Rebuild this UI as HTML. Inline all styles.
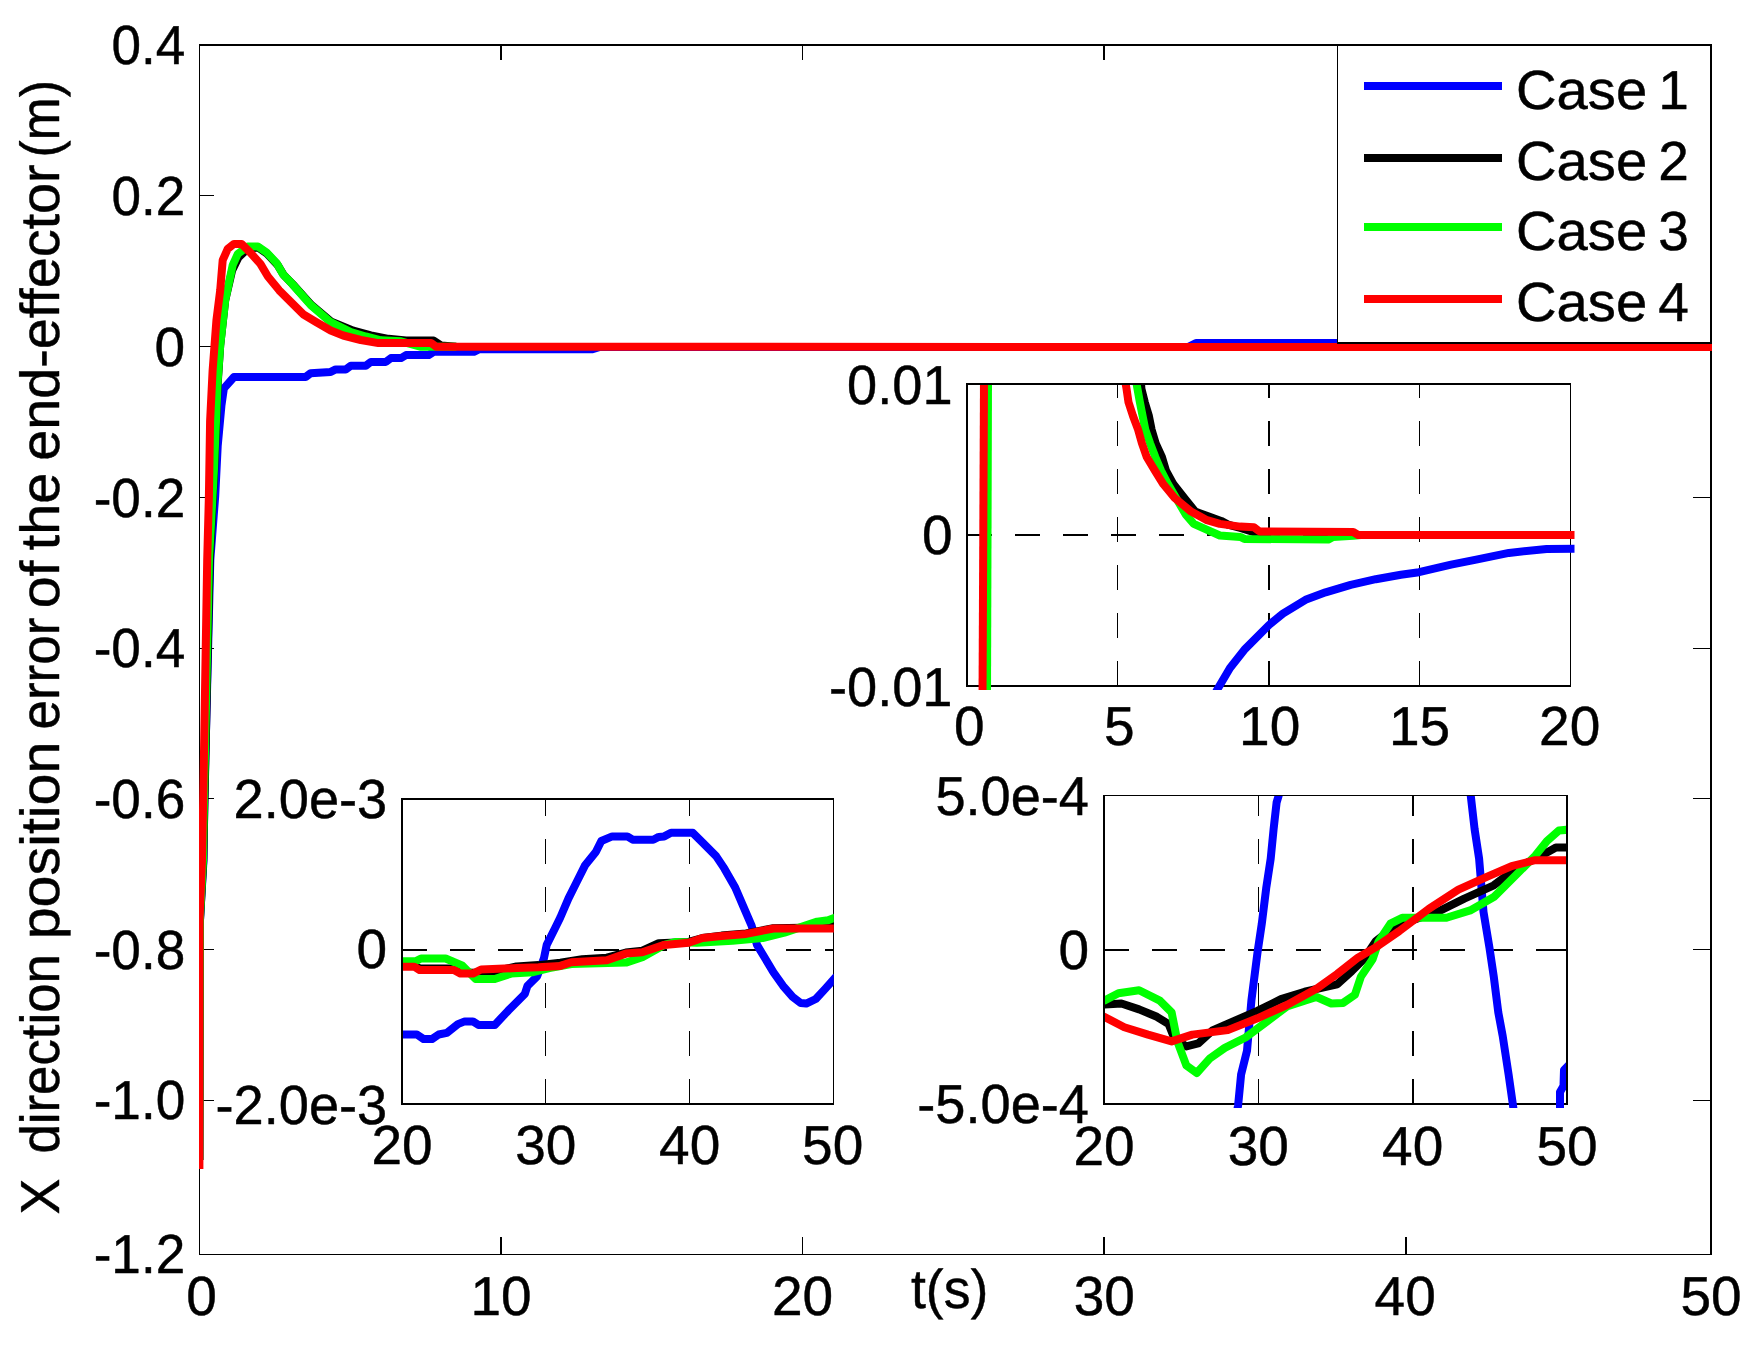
<!DOCTYPE html>
<html lang="en">
<head>
<meta charset="utf-8">
<title>X direction position error of the end-effector</title>
<style>
html,body{margin:0;padding:0;background:#fff;}
body{width:1759px;height:1354px;overflow:hidden;position:relative;font-family:"Liberation Sans", Arial, Helvetica, sans-serif;}
</style>
</head>
<body>
<svg width="1759" height="1354" viewBox="0 0 1759 1354" style="display:block;position:absolute;left:0;top:0" font-family='"Liberation Sans", Arial, Helvetica, sans-serif' font-size="55" fill="#000" shape-rendering="crispEdges" text-rendering="geometricPrecision">
<style>text{stroke:#000;stroke-width:0.45px;stroke-linejoin:round}</style>
<rect x="0" y="0" width="1759" height="1354" fill="#fff"/>
<defs>
<clipPath id="cm"><rect x="199.0" y="46.0" width="1513.0" height="1211.5"/></clipPath>
<clipPath id="c1"><rect x="968.0" y="385.0" width="606.5" height="305.0"/></clipPath>
<clipPath id="c2"><rect x="403.0" y="800.0" width="430.8" height="307.0"/></clipPath>
<clipPath id="c3"><rect x="1105.0" y="796.0" width="461.0" height="312.0"/></clipPath>
</defs>
<g id="main-axes">
<line x1="199.0" y1="45.0" x2="1712.0" y2="45.0" stroke="#000" stroke-width="2"/>
<line x1="199.0" y1="1254.5" x2="1712.0" y2="1254.5" stroke="#000" stroke-width="1"/>
<line x1="199.5" y1="44.0" x2="199.5" y2="1255.0" stroke="#000" stroke-width="1"/>
<line x1="1711.0" y1="44.0" x2="1711.0" y2="1255.0" stroke="#000" stroke-width="2"/>
<line x1="501" y1="1237.0" x2="501" y2="1254.5" stroke="#000" stroke-width="2"/>
<line x1="501" y1="45.0" x2="501" y2="60.0" stroke="#000" stroke-width="2"/>
<line x1="802.5" y1="1237.0" x2="802.5" y2="1254.5" stroke="#000" stroke-width="1"/>
<line x1="802.5" y1="45.0" x2="802.5" y2="60.0" stroke="#000" stroke-width="1"/>
<line x1="1104" y1="1237.0" x2="1104" y2="1254.5" stroke="#000" stroke-width="2"/>
<line x1="1104" y1="45.0" x2="1104" y2="60.0" stroke="#000" stroke-width="2"/>
<line x1="1405.5" y1="1237.0" x2="1405.5" y2="1254.5" stroke="#000" stroke-width="2"/>
<line x1="1405.5" y1="45.0" x2="1405.5" y2="60.0" stroke="#000" stroke-width="2"/>
<line x1="199.5" y1="195.5" x2="214.0" y2="195.5" stroke="#000" stroke-width="1"/>
<line x1="1693.0" y1="195.5" x2="1711.0" y2="195.5" stroke="#000" stroke-width="1"/>
<line x1="199.5" y1="346.5" x2="214.0" y2="346.5" stroke="#000" stroke-width="1"/>
<line x1="1693.0" y1="346.5" x2="1711.0" y2="346.5" stroke="#000" stroke-width="1"/>
<line x1="199.5" y1="497.5" x2="214.0" y2="497.5" stroke="#000" stroke-width="1"/>
<line x1="1693.0" y1="497.5" x2="1711.0" y2="497.5" stroke="#000" stroke-width="1"/>
<line x1="199.5" y1="648" x2="214.0" y2="648" stroke="#000" stroke-width="1"/>
<line x1="1693.0" y1="648" x2="1711.0" y2="648" stroke="#000" stroke-width="1"/>
<line x1="199.5" y1="798.8" x2="214.0" y2="798.8" stroke="#000" stroke-width="1"/>
<line x1="1693.0" y1="798.8" x2="1711.0" y2="798.8" stroke="#000" stroke-width="1"/>
<line x1="199.5" y1="949.8" x2="214.0" y2="949.8" stroke="#000" stroke-width="1"/>
<line x1="1693.0" y1="949.8" x2="1711.0" y2="949.8" stroke="#000" stroke-width="1"/>
<line x1="199.5" y1="1100.5" x2="214.0" y2="1100.5" stroke="#000" stroke-width="1"/>
<line x1="1693.0" y1="1100.5" x2="1711.0" y2="1100.5" stroke="#000" stroke-width="1"/>
</g>
<g id="main-curves" shape-rendering="geometricPrecision">
<path d="M199.4,1160.0 L200.0,920.0 L203.5,860.0 L204.3,800.0 L210.3,560.0 L215.2,496.2 L217.7,446.0 L221.4,405.8 L223.9,388.3 L234.0,377.0 L305.6,377.0 L310.6,373.2 L330.7,371.9 L335.7,369.4 L345.7,369.4 L350.8,365.7 L365.8,365.7 L370.9,361.9 L385.9,361.9 L390.9,358.1 L401.0,358.1 L406.0,355.1 L428.6,355.1 L433.6,351.8 L473.8,351.8 L478.8,349.3 L591.9,349.3 L600.0,347.0 L1188.0,347.0 L1196.0,343.0 L1345.0,343.0 L1352.0,347.0 L1713.0,347.0" fill="none" stroke="#0000ff" stroke-width="8" stroke-linejoin="round" clip-path="url(#cm)"/>
<path d="M199.4,1160.0 L200.0,920.0 L203.3,860.0 L204.5,800.0 L209.7,560.0 L214.2,471.1 L217.9,380.7 L220.2,345.6 L225.2,300.4 L232.2,270.2 L238.3,257.7 L247.8,248.6 L258.4,247.6 L267.1,253.7 L277.4,264.7 L283.7,275.0 L292.5,284.0 L311.3,304.9 L331.4,321.7 L353.3,330.7 L370.9,335.3 L388.4,338.8 L406.0,340.5 L433.6,340.5 L441.2,345.6 L456.2,346.8" fill="none" stroke="#000000" stroke-width="8" stroke-linejoin="round" clip-path="url(#cm)"/>
<path d="M199.4,1160.0 L199.8,920.0 L203.0,860.0 L204.0,800.0 L209.0,560.0 L213.9,471.1 L217.7,380.7 L220.2,345.6 L225.2,300.4 L232.7,265.2 L237.8,253.9 L247.8,246.4 L257.9,246.4 L266.6,252.6 L276.7,263.2 L283.0,274.2 L291.8,283.5 L310.6,304.9 L330.7,322.2 L350.8,332.0 L365.8,336.5 L380.9,340.3 L401.0,341.3 L421.1,346.8 L456.2,346.8" fill="none" stroke="#00ff00" stroke-width="8" stroke-linejoin="round" clip-path="url(#cm)"/>
<path d="M199.4,1169.0 L199.5,920.0 L202.0,860.0 L203.2,800.0 L207.2,560.0 L208.9,496.2 L210.1,420.9 L212.6,370.7 L216.4,320.5 L220.2,290.3 L222.7,260.2 L227.7,248.9 L234.0,243.9 L241.5,243.9 L250.3,252.6 L260.4,263.9 L267.9,276.5 L279.2,290.3 L290.5,301.6 L303.1,314.2 L315.6,321.7 L330.7,330.5 L343.2,335.5 L360.8,340.0 L378.4,343.1 L431.1,343.1 L436.2,346.8 L1713.0,347.0" fill="none" stroke="#ff0000" stroke-width="8" stroke-linejoin="round" clip-path="url(#cm)"/>
</g>
<g id="main-labels">
<text x="185.2" y="63.8" text-anchor="end" textLength="73.8" lengthAdjust="spacingAndGlyphs">0.4</text>
<text x="185.2" y="214.6" text-anchor="end" textLength="73.8" lengthAdjust="spacingAndGlyphs">0.2</text>
<text x="185.2" y="365.6" text-anchor="end">0</text>
<text x="185.2" y="516.6" text-anchor="end" textLength="91.5" lengthAdjust="spacingAndGlyphs">-0.2</text>
<text x="185.2" y="667.2" text-anchor="end" textLength="91.5" lengthAdjust="spacingAndGlyphs">-0.4</text>
<text x="185.2" y="818.0" text-anchor="end" textLength="91.5" lengthAdjust="spacingAndGlyphs">-0.6</text>
<text x="185.2" y="969.0" text-anchor="end" textLength="91.5" lengthAdjust="spacingAndGlyphs">-0.8</text>
<text x="185.2" y="1119.4" text-anchor="end" textLength="91.5" lengthAdjust="spacingAndGlyphs">-1.0</text>
<text x="185.2" y="1273.2" text-anchor="end" textLength="91.5" lengthAdjust="spacingAndGlyphs">-1.2</text>
<text x="201.5" y="1315.0" text-anchor="middle">0</text>
<text x="501.0" y="1315.0" text-anchor="middle">10</text>
<text x="802.5" y="1315.0" text-anchor="middle">20</text>
<text x="1104.3" y="1315.0" text-anchor="middle">30</text>
<text x="1405.2" y="1315.0" text-anchor="middle">40</text>
<text x="1711.0" y="1315.0" text-anchor="middle">50</text>
<text x="949.6" y="1308.0" text-anchor="middle" textLength="77.4" lengthAdjust="spacingAndGlyphs">t(s)</text>
<text transform="translate(59.3,1213.4) rotate(-90)"><tspan x="-1.2" textLength="35.9" lengthAdjust="spacingAndGlyphs">X</tspan> <tspan x="59.8" textLength="199.5" lengthAdjust="spacingAndGlyphs">direction</tspan> <tspan x="274.1" textLength="197.7" lengthAdjust="spacingAndGlyphs">position</tspan> <tspan x="483.8" textLength="112.0" lengthAdjust="spacingAndGlyphs">error</tspan> <tspan x="605.1" textLength="47.7" lengthAdjust="spacingAndGlyphs">of</tspan> <tspan x="663.2" textLength="77.5" lengthAdjust="spacingAndGlyphs">the</tspan> <tspan x="752.6" textLength="296.5" lengthAdjust="spacingAndGlyphs">end-effector</tspan> <tspan x="1056.0" textLength="77.3" lengthAdjust="spacingAndGlyphs">(m)</tspan></text>
</g>
<g id="legend">
<rect x="1337.5" y="45.0" width="373.5" height="298.0" fill="#fff"/>
<line x1="1337.5" y1="45.0" x2="1337.5" y2="344" stroke="#000" stroke-width="1"/>
<line x1="1337.0" y1="343" x2="1711.0" y2="343" stroke="#000" stroke-width="2"/>
<line x1="1337.5" y1="45.0" x2="1712.0" y2="45.0" stroke="#000" stroke-width="2"/>
<line x1="1711.0" y1="44.0" x2="1711.0" y2="344" stroke="#000" stroke-width="2"/>
<line x1="1364" y1="86" x2="1502" y2="86" stroke="#0000ff" stroke-width="8"/>
<text y="109"><tspan x="1516.0" textLength="131.2" lengthAdjust="spacingAndGlyphs">Case</tspan> <tspan x="1658.3">1</tspan></text>
<line x1="1364" y1="158" x2="1502" y2="158" stroke="#000000" stroke-width="8"/>
<text y="180"><tspan x="1516.0" textLength="131.2" lengthAdjust="spacingAndGlyphs">Case</tspan> <tspan x="1658.3">2</tspan></text>
<line x1="1364" y1="227" x2="1502" y2="227" stroke="#00ff00" stroke-width="8"/>
<text y="249.5"><tspan x="1516.0" textLength="131.2" lengthAdjust="spacingAndGlyphs">Case</tspan> <tspan x="1658.3">3</tspan></text>
<line x1="1364" y1="299" x2="1502" y2="299" stroke="#ff0000" stroke-width="8"/>
<text y="321"><tspan x="1516.0" textLength="131.2" lengthAdjust="spacingAndGlyphs">Case</tspan> <tspan x="1658.3">4</tspan></text>
</g>
<g>
<rect x="967.0" y="384.0" width="603.5" height="302.0" fill="#fff"/>
<line x1="967.0" y1="535.0" x2="1570.5" y2="535.0" stroke="#000" stroke-width="2" stroke-dasharray="25 23"/>
<line x1="1117.5" y1="686.0" x2="1117.5" y2="384.0" stroke="#000" stroke-width="1" stroke-dasharray="25 23"/>
<line x1="1269.0" y1="686.0" x2="1269.0" y2="384.0" stroke="#000" stroke-width="2" stroke-dasharray="25 23"/>
<line x1="1419.5" y1="686.0" x2="1419.5" y2="384.0" stroke="#000" stroke-width="1" stroke-dasharray="25 23"/>
<line x1="1562.0" y1="535.0" x2="1570.5" y2="535.0" stroke="#000" stroke-width="2"/>
<line x1="966.0" y1="384.0" x2="1571.0" y2="384.0" stroke="#000" stroke-width="2"/>
<line x1="966.0" y1="686.0" x2="1571.0" y2="686.0" stroke="#000" stroke-width="2"/>
<line x1="967.0" y1="384.0" x2="967.0" y2="686.0" stroke="#000" stroke-width="2"/>
<line x1="1570.5" y1="384.0" x2="1570.5" y2="686.0" stroke="#000" stroke-width="1"/>
<g shape-rendering="geometricPrecision">
<path d="M1212.0,700.0 L1217.0,690.0 L1230.0,668.0 L1245.2,648.8 L1269.0,625.0 L1282.9,613.6 L1305.5,599.8 L1325.6,592.3 L1350.7,584.8 L1375.8,579.2 L1400.9,574.7 L1419.0,572.2 L1451.1,564.7 L1476.2,559.6 L1508.9,552.9 L1546.6,548.9 L1578.0,548.8" fill="none" stroke="#0000ff" stroke-width="8" stroke-linejoin="round" clip-path="url(#c1)"/>
<path d="M986.0,700.0 L987.0,380.0" fill="none" stroke="#000000" stroke-width="8" stroke-linejoin="round" clip-path="url(#c1)"/>
<path d="M1140.8,380.5 L1141.4,388.7 L1144.8,402.3 L1148.9,416.0 L1151.6,429.6 L1155.7,443.3 L1161.9,457.0 L1166.0,470.6 L1173.5,484.3 L1184.3,498.0 L1195.2,511.6 L1208.9,516.4 L1221.1,520.9 L1228.0,524.6 L1240.3,528.0 L1253.9,532.1 L1259.4,533.5" fill="none" stroke="#000000" stroke-width="8" stroke-linejoin="round" clip-path="url(#c1)"/>
<path d="M987.0,700.0 L988.0,380.0" fill="none" stroke="#00ff00" stroke-width="8" stroke-linejoin="round" clip-path="url(#c1)"/>
<path d="M1136.2,380.5 L1136.7,384.6 L1139.9,402.3 L1142.6,416.0 L1145.3,429.6 L1150.1,443.3 L1155.3,457.0 L1161.0,470.6 L1168.1,484.3 L1176.1,498.0 L1185.6,514.3 L1193.8,523.9 L1206.1,529.4 L1219.8,535.5 L1240.3,536.9 L1244.4,538.9 L1328.1,539.6 L1333.1,537.0 L1353.2,535.8 L1360.7,535.0" fill="none" stroke="#00ff00" stroke-width="8" stroke-linejoin="round" clip-path="url(#c1)"/>
<path d="M982.5,700.0 L984.0,380.0" fill="none" stroke="#ff0000" stroke-width="8" stroke-linejoin="round" clip-path="url(#c1)"/>
<path d="M1125.1,380.5 L1126.5,388.7 L1128.5,402.3 L1133.0,416.0 L1138.1,429.6 L1141.9,443.3 L1146.7,457.0 L1154.9,470.6 L1163.4,484.3 L1174.7,498.0 L1191.1,511.6 L1206.1,519.8 L1219.8,523.9 L1240.3,526.6 L1253.9,527.3 L1259.4,531.4 L1353.2,532.0 L1358.2,535.0 L1579.2,535.0" fill="none" stroke="#ff0000" stroke-width="8" stroke-linejoin="round" clip-path="url(#c1)"/>
</g>
<text x="969.2" y="745.0" text-anchor="middle">0</text>
<text x="1119.4" y="745.0" text-anchor="middle">5</text>
<text x="1269.7" y="745.0" text-anchor="middle">10</text>
<text x="1419.6" y="745.0" text-anchor="middle">15</text>
<text x="1569.7" y="745.0" text-anchor="middle">20</text>
<text x="952.5" y="403.6" text-anchor="end" textLength="105.4" lengthAdjust="spacingAndGlyphs">0.01</text>
<text x="952.5" y="554.2" text-anchor="end">0</text>
<text x="952.5" y="705.5" text-anchor="end" textLength="123.5" lengthAdjust="spacingAndGlyphs">-0.01</text>
</g>
<g>
<rect x="402.0" y="799.0" width="431.5" height="305.0" fill="#fff"/>
<line x1="402.0" y1="950.0" x2="833.5" y2="950.0" stroke="#000" stroke-width="2" stroke-dasharray="25 23"/>
<line x1="545.5" y1="1104.0" x2="545.5" y2="799.0" stroke="#000" stroke-width="1" stroke-dasharray="25 23"/>
<line x1="689.5" y1="1104.0" x2="689.5" y2="799.0" stroke="#000" stroke-width="1" stroke-dasharray="25 23"/>
<line x1="825.0" y1="950.0" x2="833.5" y2="950.0" stroke="#000" stroke-width="2"/>
<line x1="401.0" y1="799.0" x2="834.0" y2="799.0" stroke="#000" stroke-width="2"/>
<line x1="401.0" y1="1104.0" x2="834.0" y2="1104.0" stroke="#000" stroke-width="2"/>
<line x1="402.0" y1="799.0" x2="402.0" y2="1104.0" stroke="#000" stroke-width="2"/>
<line x1="833.5" y1="799.0" x2="833.5" y2="1104.0" stroke="#000" stroke-width="1"/>
<g shape-rendering="geometricPrecision">
<path d="M396.4,1034.5 L416.9,1034.5 L423.7,1039.1 L431.9,1039.1 L438.7,1034.5 L446.9,1032.8 L457.9,1024.1 L464.7,1021.4 L472.9,1021.4 L478.4,1024.9 L494.8,1024.9 L508.4,1010.4 L524.8,994.0 L527.5,985.8 L537.1,976.3 L543.9,958.5 L546.7,944.9 L554.9,928.5 L560.3,917.5 L568.5,898.4 L576.7,882.0 L584.9,865.6 L595.8,852.0 L601.3,841.0 L612.2,836.4 L627.3,836.4 L632.7,839.7 L653.2,839.7 L658.7,836.9 L664.2,836.4 L671.0,832.8 L692.8,832.8 L702.4,842.4 L716.1,856.1 L724.3,868.4 L735.2,887.5 L743.4,906.6 L751.6,925.7 L757.0,944.9 L765.2,958.5 L773.4,972.2 L783.0,985.8 L792.6,996.8 L800.8,1003.1 L806.2,1003.6 L815.8,999.0 L825.4,988.6 L836.3,976.3" fill="none" stroke="#0000ff" stroke-width="8" stroke-linejoin="round" clip-path="url(#c2)"/>
<path d="M396.4,965.6 L414.2,965.6 L419.6,968.4 L453.8,968.4 L460.6,972.2 L472.9,972.7 L489.3,972.7 L516.6,966.4 L538.5,965.1 L560.3,962.6 L582.2,959.3 L606.8,957.7 L625.9,952.5 L642.3,950.6 L658.7,943.2 L688.7,941.9 L702.4,938.0 L721.5,935.6 L746.1,933.4 L773.4,928.2 L817.2,927.4 L839.0,923.6" fill="none" stroke="#000000" stroke-width="8" stroke-linejoin="round" clip-path="url(#c2)"/>
<path d="M396.4,961.3 L415.5,961.3 L421.0,958.5 L445.6,958.5 L462.0,965.4 L475.6,979.0 L494.8,979.0 L511.1,973.6 L533.0,972.2 L549.4,968.1 L571.3,964.0 L625.9,962.6 L642.3,957.2 L664.2,944.9 L675.1,942.1 L696.9,942.7 L732.5,940.8 L762.5,938.0 L784.4,932.6 L800.8,927.1 L817.2,921.6 L828.1,920.3 L839.0,916.2" fill="none" stroke="#00ff00" stroke-width="8" stroke-linejoin="round" clip-path="url(#c2)"/>
<path d="M396.4,966.7 L414.2,966.7 L419.6,970.0 L453.8,970.0 L460.6,973.6 L472.9,973.6 L481.1,969.5 L516.6,968.1 L538.5,967.3 L560.3,965.9 L571.3,962.3 L606.8,960.2 L625.9,953.6 L642.3,952.2 L664.2,944.9 L688.7,942.7 L702.4,938.0 L721.5,936.1 L746.1,933.9 L773.4,928.5 L839.0,928.5" fill="none" stroke="#ff0000" stroke-width="8" stroke-linejoin="round" clip-path="url(#c2)"/>
</g>
<text x="402.0" y="1164.0" text-anchor="middle">20</text>
<text x="545.8" y="1164.0" text-anchor="middle">30</text>
<text x="689.7" y="1164.0" text-anchor="middle">40</text>
<text x="832.7" y="1164.0" text-anchor="middle">50</text>
<text x="387.2" y="818.0" text-anchor="end" textLength="153.6" lengthAdjust="spacingAndGlyphs">2.0e-3</text>
<text x="387.2" y="968.1" text-anchor="end">0</text>
<text x="387.2" y="1123.7" text-anchor="end" textLength="171.7" lengthAdjust="spacingAndGlyphs">-2.0e-3</text>
</g>
<g>
<rect x="1104.0" y="795.5" width="463.0" height="308.5" fill="#fff"/>
<line x1="1104.0" y1="950.0" x2="1567.0" y2="950.0" stroke="#000" stroke-width="2" stroke-dasharray="25 23"/>
<line x1="1258.5" y1="1104.0" x2="1258.5" y2="795.5" stroke="#000" stroke-width="1" stroke-dasharray="25 23"/>
<line x1="1413.0" y1="1104.0" x2="1413.0" y2="795.5" stroke="#000" stroke-width="2" stroke-dasharray="25 23"/>
<line x1="1558.5" y1="950.0" x2="1567.0" y2="950.0" stroke="#000" stroke-width="2"/>
<line x1="1103.0" y1="795.5" x2="1568.0" y2="795.5" stroke="#000" stroke-width="1"/>
<line x1="1103.0" y1="1104.0" x2="1568.0" y2="1104.0" stroke="#000" stroke-width="2"/>
<line x1="1104.0" y1="795.5" x2="1104.0" y2="1104.0" stroke="#000" stroke-width="2"/>
<line x1="1567.0" y1="795.5" x2="1567.0" y2="1104.0" stroke="#000" stroke-width="2"/>
<g shape-rendering="geometricPrecision">
<path d="M1236.1,1115.8 L1238.1,1105.5 L1241.1,1074.5 L1247.0,1050.8 L1251.4,1000.6 L1257.4,953.3 L1261.8,923.7 L1266.2,888.2 L1270.7,858.7 L1273.6,829.1 L1276.6,802.5 L1281.0,787.7" fill="none" stroke="#0000ff" stroke-width="8" stroke-linejoin="round" clip-path="url(#c3)"/>
<path d="M1469.6,787.7 L1470.8,796.0 L1474.6,829.1 L1479.1,858.7 L1483.5,911.9 L1489.4,947.4 L1493.8,976.9 L1498.3,1012.4 L1502.7,1036.0 L1508.6,1074.5 L1513.0,1105.5 L1514.5,1115.8" fill="none" stroke="#0000ff" stroke-width="8" stroke-linejoin="round" clip-path="url(#c3)"/>
<path d="M1560.0,1112.0 L1560.0,1092.0 L1563.5,1086.0 L1564.0,1070.0 L1572.0,1062.0" fill="none" stroke="#0000ff" stroke-width="8" stroke-linejoin="round" clip-path="url(#c3)"/>
<path d="M1097.7,1005.0 L1121.4,1003.5 L1139.1,1009.4 L1156.9,1016.8 L1168.7,1024.2 L1174.6,1039.0 L1186.4,1046.4 L1198.2,1043.4 L1213.0,1030.1 L1233.7,1021.3 L1257.4,1010.9 L1281.0,999.1 L1304.7,991.7 L1337.2,984.3 L1351.9,971.0 L1363.8,959.2 L1375.6,941.4 L1390.4,929.6 L1411.1,920.8 L1440.6,910.4 L1464.3,898.6 L1493.8,885.3 L1517.5,867.5 L1541.1,855.7 L1555.9,847.4 L1573.6,847.4" fill="none" stroke="#000000" stroke-width="8" stroke-linejoin="round" clip-path="url(#c3)"/>
<path d="M1097.7,1003.5 L1104.2,1000.6 L1118.4,993.2 L1139.1,990.2 L1159.8,1000.6 L1171.6,1012.4 L1177.5,1041.9 L1186.4,1065.6 L1196.8,1073.0 L1210.1,1058.2 L1224.8,1047.9 L1245.5,1037.5 L1263.3,1024.2 L1286.9,1006.5 L1304.7,1000.6 L1316.5,997.0 L1331.3,1003.5 L1343.1,1002.9 L1354.9,994.7 L1360.8,976.9 L1372.6,959.2 L1378.6,941.4 L1390.4,923.7 L1402.2,917.8 L1419.9,917.8 L1446.5,917.8 L1470.2,910.4 L1493.8,897.1 L1517.5,873.5 L1535.2,855.7 L1547.0,840.9 L1558.9,830.6 L1573.6,829.1" fill="none" stroke="#00ff00" stroke-width="8" stroke-linejoin="round" clip-path="url(#c3)"/>
<path d="M1097.7,1013.9 L1104.2,1016.8 L1124.3,1027.2 L1148.0,1034.6 L1171.6,1041.4 L1192.3,1034.6 L1227.8,1030.1 L1257.4,1018.3 L1286.9,1005.0 L1316.5,988.7 L1337.2,974.0 L1357.9,957.7 L1375.6,947.4 L1399.2,931.1 L1428.8,908.9 L1458.4,889.7 L1487.9,876.4 L1511.6,866.1 L1535.2,860.2 L1573.6,860.2" fill="none" stroke="#ff0000" stroke-width="8" stroke-linejoin="round" clip-path="url(#c3)"/>
</g>
<text x="1104.0" y="1164.5" text-anchor="middle">20</text>
<text x="1258.3" y="1164.5" text-anchor="middle">30</text>
<text x="1412.7" y="1164.5" text-anchor="middle">40</text>
<text x="1567.0" y="1164.5" text-anchor="middle">50</text>
<text x="1089.0" y="814.8" text-anchor="end" textLength="153.6" lengthAdjust="spacingAndGlyphs">5.0e-4</text>
<text x="1089.0" y="968.8" text-anchor="end">0</text>
<text x="1089.0" y="1122.8" text-anchor="end" textLength="171.7" lengthAdjust="spacingAndGlyphs">-5.0e-4</text>
</g>
</svg>
</body>
</html>
